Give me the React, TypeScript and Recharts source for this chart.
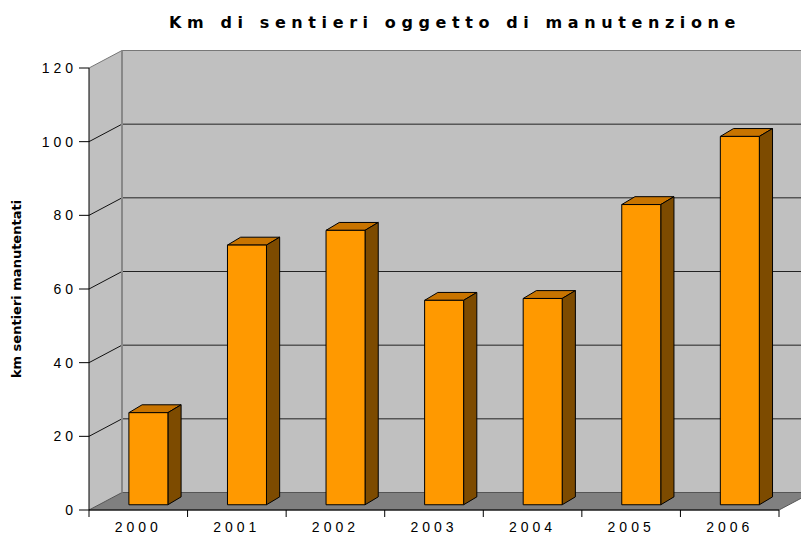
import { BarChart, Bar, XAxis, YAxis, usePlotArea } from 'recharts'

const years = ['2000', '2001', '2002', '2003', '2004', '2005', '2006']
const km = [25, 70.5, 74.5, 55.5, 56, 81.5, 100]
const yTicks = [0, 20, 40, 60, 80, 100, 120]

const data = years.map((year, i) => ({ year, km: km[i] }))

const W = 801
const H = 535
const DEPTH_X = 33
const DEPTH_Y = -17.5
const FONT = 'Liberation Sans, Arial, sans-serif'
const TITLE_FONT = 'DejaVu Sans, Verdana, sans-serif'

// back wall, side wall, floor and gridlines, drawn behind the bars
function Walls() {
  const plot = usePlotArea()
  if (!plot) return null
  const { x, y, width, height } = plot
  const yOf = (v: number) => y + height * (1 - v / 120)
  const bx = x + DEPTH_X
  const bottom = y + height
  const band = width / years.length
  return (
    <g>
      <polygon points={`${x},${y} ${bx},${y + DEPTH_Y} ${bx},${bottom + DEPTH_Y} ${x},${bottom}`} fill="#c0c0c0" />
      <rect x={bx} y={y + DEPTH_Y} width={width} height={height} fill="#c0c0c0" />
      <polygon
        points={`${x},${bottom} ${x + width},${bottom} ${bx + width},${bottom + DEPTH_Y} ${bx},${bottom + DEPTH_Y}`}
        fill="#808080"
        stroke="#555"
        strokeWidth={1}
      />
      {yTicks.slice(1, -1).map((v) => (
        <g key={v}>
          <line x1={x} y1={yOf(v)} x2={bx} y2={yOf(v) + DEPTH_Y} stroke="#111" />
          <line x1={bx} y1={yOf(v) + DEPTH_Y} x2={bx + width} y2={yOf(v) + DEPTH_Y} stroke="#222" />
        </g>
      ))}
      <line x1={x} y1={y} x2={bx} y2={y + DEPTH_Y} stroke="#777" />
      <line x1={bx} y1={y + DEPTH_Y} x2={bx + width} y2={y + DEPTH_Y} stroke="#777" />
      <line x1={bx} y1={y + DEPTH_Y} x2={bx} y2={bottom + DEPTH_Y} stroke="#888" strokeWidth={2} />
      {years.concat(['']).map((_, i) => (
        <line key={i} x1={x + i * band} y1={bottom} x2={x + i * band} y2={bottom + 7} stroke="#000" />
      ))}
    </g>
  )
}

function Bar3D(props: any) {
  const { x, y, width, height } = props
  if (height == null || height <= 0) return null
  const fx = x + DEPTH_X * 0.3
  const fy = y + DEPTH_Y * 0.3
  const dx = DEPTH_X * 0.4
  const dy = DEPTH_Y * 0.45
  const r = fx + width
  return (
    <g stroke="#000" strokeWidth={1} strokeLinejoin="round">
      <polygon points={`${fx},${fy} ${r},${fy} ${r + dx},${fy + dy} ${fx + dx},${fy + dy}`} fill="#c87400" />
      <polygon points={`${r},${fy} ${r + dx},${fy + dy} ${r + dx},${fy + height + dy} ${r},${fy + height}`} fill="#7d4b00" />
      <rect x={fx} y={fy} width={width} height={height} fill="#ff9900" />
    </g>
  )
}

function YTick(props: any) {
  const { x, y, payload } = props
  return (
    <text x={x} y={y} dy={5} textAnchor="end" fontSize={14} fontFamily={FONT} letterSpacing={4} fill="#000">
      {payload.value}
    </text>
  )
}

function XTick(props: any) {
  const { x, y, payload } = props
  return (
    <text x={x} y={y} dy={14} textAnchor="middle" fontSize={14} fontFamily={FONT} letterSpacing={4} fill="#000">
      {payload.value}
    </text>
  )
}

export default function App() {
  return (
    <div style={{ position: 'absolute', left: 0, top: 0, width: W, height: H, background: '#fff' }}>
      <BarChart width={W} height={H} data={data} margin={{ top: 68, right: 22, left: 0, bottom: 0 }} barSize={39}>
        <Walls />
        <XAxis
          dataKey="year"
          height={25}
          tickLine={false}
          tickSize={8}
          tickMargin={0}
          axisLine={{ stroke: '#000' }}
          tick={<XTick />}
          interval={0}
        />
        <YAxis
          domain={[0, 120]}
          ticks={yTicks}
          width={89}
          tickSize={10}
          tickMargin={2}
          axisLine={{ stroke: '#000' }}
          tickLine={{ stroke: '#000' }}
          tick={<YTick />}
          interval={0}
        />
        <Bar dataKey="km" shape={<Bar3D />} isAnimationActive={false} />
        <text x={455} y={28} textAnchor="middle" fontSize={16} fontWeight="bold" fontFamily={TITLE_FONT} letterSpacing={5.6} fill="#000">
          Km di sentieri oggetto di manutenzione
        </text>
        <text
          x={21}
          y={289}
          transform="rotate(-90 21 289)"
          textAnchor="middle"
          fontSize={13}
          fontWeight="bold"
          fontFamily={TITLE_FONT}
          fill="#000"
        >
          km sentieri manutentati
        </text>
      </BarChart>
    </div>
  )
}
